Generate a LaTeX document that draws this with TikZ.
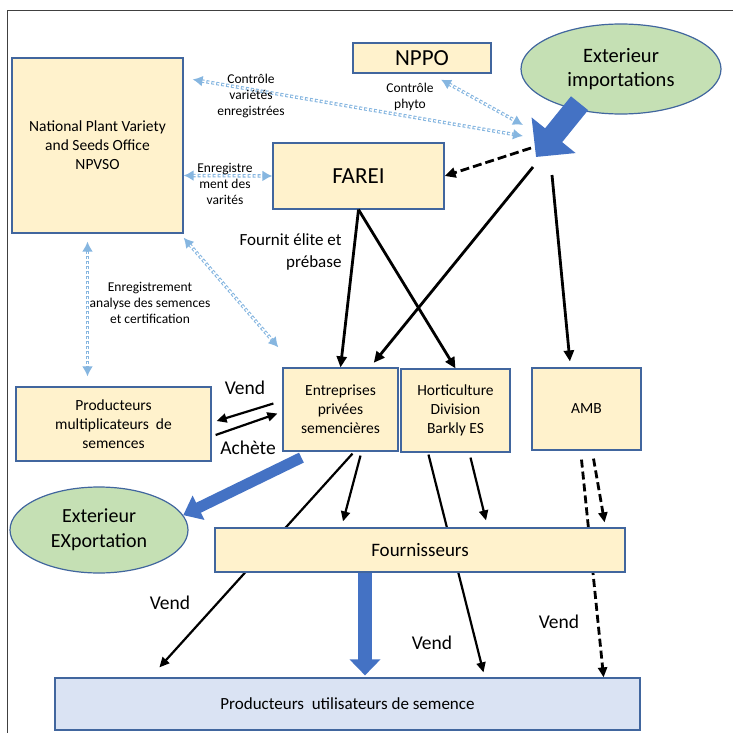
\documentclass[tikz,border=0pt]{standalone}
\usepackage{fontspec}
\setmainfont{Carlito}
\usetikzlibrary{arrows.meta,calc,shapes.geometric}

\definecolor{boxfill}{HTML}{FFF2CC}
\definecolor{boxline}{HTML}{41669E}
\definecolor{extfill}{HTML}{C5E0B4}
\definecolor{userfill}{HTML}{DAE3F3}
\definecolor{fatblue}{HTML}{4472C4}
\definecolor{ltblue}{HTML}{86B6E0}

\begin{document}
\begin{tikzpicture}[x=1pt,y=-1pt,
    box/.style={draw=boxline,line width=1.2pt,fill=boxfill,inner sep=0pt,align=center,font=\fontsize{15.5}{19}\selectfont},
    outside/.style={ellipse,draw=boxline,line width=1.2pt,fill=extfill,inner sep=0pt,align=center,font=\fontsize{20.5}{24}\selectfont},
    supply/.style={line width=2.8pt,-{Triangle[length=11pt,width=10pt]}},
    sell/.style={line width=2.2pt,-{Triangle[length=10pt,width=9pt]}},
    broken/.style={line width=2.8pt,dash pattern=on 8pt off 4pt},
    control/.style={draw=ltblue,line width=3.4pt,dash pattern=on 3pt off 2pt,
        arrows={Latex[length=10pt,width=11pt]-Latex[length=10pt,width=11pt]},
        postaction={draw=white,line width=1.3pt,arrows=-,dash pattern=on 3pt off 2pt,shorten <=10pt,shorten >=10pt}},
    fat/.style={draw=fatblue,line width=#1},
    small/.style={align=center,font=\fontsize{13.5}{16}\selectfont},
    word/.style={font=\fontsize{19.5}{22}\selectfont}
]
    \useasboundingbox (0,0) rectangle (733,733);
    \draw[color=darkgray,line width=0.8pt] (7,733) -- (7,10) -- (733,10);

    \node[box,minimum width=171pt,minimum height=175pt] (npvso) at (97.5,145.5) {National Plant Variety\\and Seeds Office\\NPVSO};
    \node[box,minimum width=138pt,minimum height=30pt,font=\fontsize{23}{26}\selectfont] (nppo) at (422,58) {NPPO};
    \node[box,minimum width=171pt,minimum height=66pt,font=\fontsize{23}{26}\selectfont] (farei) at (358.5,176) {FAREI};
    \node[box,minimum width=115pt,minimum height=83pt] (entr) at (340.5,409.5) {Entreprises\\privées\\semencières};
    \node[box,minimum width=109pt,minimum height=83pt] (hort) at (455.5,410.5) {Horticulture\\Division\\Barkly ES};
    \node[box,minimum width=109pt,minimum height=82pt] (amb) at (586.5,409) {AMB};
    \node[box,minimum width=195pt,minimum height=74pt] (prodm) at (113.5,424) {Producteurs\\multiplicateurs\ \ de\\semences};
    \node[box,fill=userfill,minimum width=585pt,minimum height=52pt,font=\fontsize{17}{20}\selectfont] (produ) at (347.5,704) {Producteurs\ \ utilisateurs de semence};
    \node[outside,minimum width=200pt,minimum height=90pt] (ext) at (621,69) {Exterieur\\importations};
    \node[outside,minimum width=178pt,minimum height=86pt,font=\fontsize{20}{25}\selectfont] (exp) at (99,530) {Exterieur\\EXportation};

    \coordinate (imp) at (536,157);
    \coordinate (imp1) at (531,148);
    \coordinate (imp2) at (533,167);
    \coordinate (imp3) at (552,175);
    \coordinate (imp4) at (523,136);
    \coordinate (imp5) at (523,125);

    \draw[fat=22pt,-{Triangle[length=28pt,width=55pt]}] ($(ext.221)!-8pt!(imp)$) -- (imp);

    % controles
    \draw[control] ([xshift=9pt,yshift=-22pt]npvso.north east) -- (imp4);
    \draw[control] ([xshift=19pt,yshift=-6pt]nppo.south) -- (imp5);
    \draw[control] ([yshift=-30pt]npvso.east) -- (farei.west);
    \draw[control] ([xshift=-10pt,yshift=-8pt]npvso.south) -- ([xshift=-26pt,yshift=10pt]prodm.north);
    \draw[control] ([yshift=-4pt]npvso.south east) -- ([xshift=-4pt,yshift=20pt]entr.north west);
    \node[small] (lctrl) at (251,96) {Contrôle\\variétés\\enregistrées};
    \node[small] (lphyto) at (410,96.5) {Contrôle\\phyto};
    \node[small] (lenreg) at (225,184) {Enregistre\\ment des\\varités};
    \node[small] (lcert) at (150,303) {Enregistrement\\analyse des semences\\et certification};

    \draw[supply] (farei.south) -- (entr.north);
    \draw[supply] (farei.south) -- (hort.north);
    \draw[supply,broken,dash pattern=on 9pt off 4pt] (imp1) -- (farei.east);
    \draw[supply,shorten >=6pt] (imp2) -- (entr.55);
    \draw[supply,shorten >=6pt] (imp3) -- ([xshift=-16pt]amb.north);
    \node[align=right,anchor=east,font=\fontsize{17}{22}\selectfont] (lfourn) at (345,252) {Fournit élite et\\prébase};

    \draw[sell] ([xshift=-9pt,yshift=6pt]entr.west) -- ([xshift=5pt,yshift=3pt]prodm.east);
    \draw[sell] ([xshift=4pt,yshift=-11pt]prodm.east) -- ([xshift=-5pt,yshift=-4pt]entr.west);
    \node[word] (lvend1) at (245,388) {Vend};
    \node[word] (lachete) at (248,448) {Achète};

    % vers les producteurs
    \draw[sell] ([xshift=12pt,yshift=-2pt]entr.south) -- ([xshift=105pt,yshift=10pt]produ.north west);
    \draw[sell] ([xshift=-27pt,yshift=-2pt]hort.south) -- ([xshift=136pt,yshift=5pt]produ.north);
    \draw[sell,broken] ([xshift=-5pt,yshift=-9pt]amb.south) -- ([xshift=-37pt]produ.north east);
    \node[box,minimum width=410pt,minimum height=44pt,font=\fontsize{19}{22}\selectfont] (four) at (420,550) {Fournisseurs};
    \draw[sell] ([xshift=20pt,yshift=-4pt]entr.south) -- ([xshift=-77pt,yshift=6pt]four.north);
    \draw[sell] ([xshift=15pt,yshift=-5pt]hort.south) -- ([xshift=66pt,yshift=7pt]four.north);
    \draw[sell,broken] ([xshift=7pt,yshift=-8pt]amb.south) -- ([xshift=-21pt,yshift=5pt]four.north east);
    \draw[fat=14pt,-{Triangle[length=16pt,width=30pt]}] ([xshift=-55pt]four.south) -- ([xshift=-55pt,yshift=2pt]four.south |- produ.north);
    \draw[fat=11pt,-{Triangle[length=17pt,width=26pt]}] ([xshift=19pt,yshift=-6pt]entr.south west) -- (exp.10);
    \node[word] (lvend2) at (170,603) {Vend};
    \node[word] (lvend3) at (432,643) {Vend};
    \node[word] (lvend4) at (559,622) {Vend};

\end{tikzpicture}
\end{document}
